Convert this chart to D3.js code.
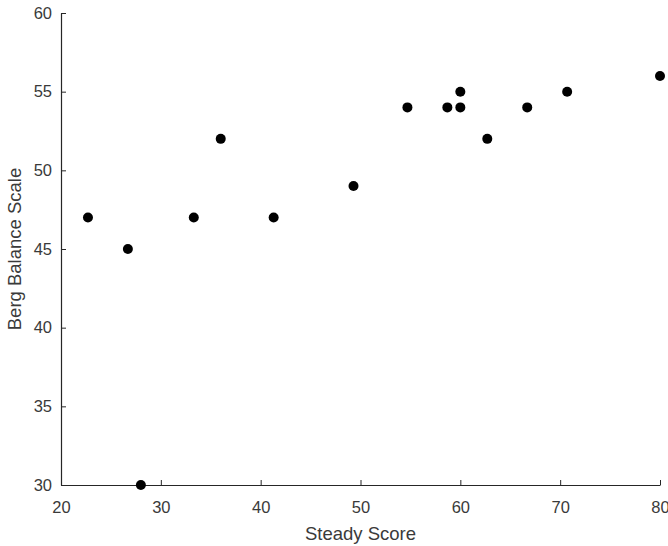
<!DOCTYPE html>
<html>
<head>
<meta charset="utf-8">
<script src="https://cdn.jsdelivr.net/npm/d3@7"></script>
<style>
  body { margin: 0; background: #fff; }
  svg text { font-family: "Liberation Sans", Arial, sans-serif; }
</style>
</head>
<body>
<svg id="chart"></svg>
<script>
// Steady score vs Berg Balance Scale, one dot per subject
const steadyScore = [22.7, 26.7, 28, 33.3, 36, 41.3, 49.3, 54.7, 58.7, 60, 60, 62.7, 66.7, 70.7, 80];
const bergScore   = [47,   45,   30, 47,   52, 47,   49,   54,   54,   54, 55, 52,   54,   55,   56];
const xTicks = [20, 30, 40, 50, 60, 70, 80];
const yTicks = [30, 35, 40, 45, 50, 55, 60];

const width = 668;
const height = 546;
const margin = { top: 13, right: 8, bottom: 61, left: 61 };

const svg = d3.select("#chart")
    .attr("width", width)
    .attr("height", height);

const x = d3.scaleLinear()
    .domain([20, 80])
    .range([margin.left, width - margin.right - 0]);

const y = d3.scaleLinear()
    .domain([30, 60])
    .range([height - margin.bottom, margin.top]);

const axisColor = "#262626";

// x axis, ticks pointing inward like matlab
const gx = svg.append("g")
    .attr("transform", `translate(0,${y(30)})`)
    .call(d3.axisBottom(x).tickValues(xTicks).tickSizeInner(-5).tickSizeOuter(0).tickPadding(16));

// y axis
const gy = svg.append("g")
    .attr("transform", `translate(${x(20)},0)`)
    .call(d3.axisLeft(y).tickValues(yTicks).tickSizeInner(-5).tickSizeOuter(0).tickPadding(9));

[gx, gy].forEach(g => {
    g.select(".domain").attr("stroke", axisColor).attr("stroke-width", 1.2);
    g.selectAll(".tick line").attr("stroke", axisColor);
    g.selectAll(".tick text")
        .attr("fill", "#3a3a3a")
        .style("font-size", "16.5px");
});

// points
const pts = steadyScore.map((s, i) => ({ s: s, b: bergScore[i] }));
svg.append("g")
    .selectAll("circle")
    .data(pts)
    .enter()
    .append("circle")
    .attr("cx", d => x(d.s))
    .attr("cy", d => y(d.b))
    .attr("r", 5)
    .attr("fill", "#000");

// axis titles
svg.append("text")
    .attr("x", (x(20) + x(80)) / 2)
    .attr("y", 540)
    .attr("text-anchor", "middle")
    .attr("fill", "#3a3a3a")
    .style("font-size", "18.5px")
    .text("Steady Score");

svg.append("text")
    .attr("transform", `translate(21,${(y(30) + y(60)) / 2}) rotate(-90)`)
    .attr("text-anchor", "middle")
    .attr("fill", "#3a3a3a")
    .style("font-size", "18.5px")
    .text("Berg Balance Scale");
</script>
</body>
</html>
